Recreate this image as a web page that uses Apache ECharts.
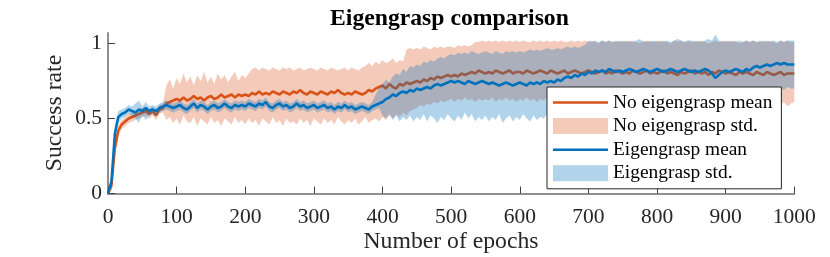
<!DOCTYPE html>
<html>
<head>
<meta charset="utf-8">
<script src="https://cdn.jsdelivr.net/npm/echarts@6/dist/echarts.min.js"></script>
<style>html,body{margin:0;padding:0;background:#fff;}#c{width:830px;height:257px;}</style>
</head>
<body>
<div id="c"></div>
<script>
// Sampling step (epochs) of the values
const STEP = 5;
const xTicks = [0, 100, 200, 300, 400, 500, 600, 700, 800, 900, 1000];
const yTicks = [0, 0.5, 1];
const seriesNames = ['No eigengrasp mean', 'No eigengrasp std.', 'Eigengrasp mean', 'Eigengrasp std.'];
const xName = 'Number of epochs';
const yName = 'Success rate';

// No eigengrasp: mean, lower (mean-std), upper (mean+std)
const noMean = [
0,0.05,0.30,0.42,0.46,0.48,0.50,0.51,0.52,0.53,
0.54,0.55,0.53,0.55,0.52,0.56,0.57,0.60,0.61,0.62,
0.63,0.62,0.64,0.62,0.63,0.65,0.63,0.64,0.62,0.64,
0.65,0.63,0.64,0.66,0.64,0.65,0.66,0.64,0.66,0.65,
0.66,0.65,0.67,0.66,0.68,0.66,0.67,0.66,0.68,0.67,
0.66,0.68,0.67,0.66,0.68,0.67,0.69,0.67,0.66,0.68,
0.67,0.66,0.68,0.67,0.66,0.68,0.67,0.69,0.67,0.66,
0.67,0.66,0.68,0.67,0.66,0.67,0.69,0.68,0.70,0.71,
0.72,0.70,0.73,0.71,0.70,0.73,0.72,0.74,0.73,0.74,
0.75,0.74,0.76,0.75,0.77,0.76,0.78,0.77,0.78,0.79,
0.78,0.79,0.78,0.80,0.79,0.80,0.81,0.80,0.82,0.81,
0.80,0.81,0.80,0.82,0.81,0.80,0.81,0.82,0.80,0.81,
0.81,0.80,0.82,0.81,0.80,0.81,0.82,0.81,0.80,0.82,
0.81,0.80,0.81,0.82,0.80,0.81,0.82,0.81,0.80,0.81,
0.82,0.81,0.80,0.81,0.82,0.80,0.81,0.80,0.82,0.81,
0.80,0.81,0.80,0.82,0.81,0.80,0.81,0.82,0.80,0.81,
0.80,0.81,0.82,0.80,0.81,0.80,0.79,0.81,0.80,0.81,
0.82,0.80,0.81,0.80,0.81,0.79,0.81,0.80,0.82,0.81,
0.80,0.81,0.80,0.79,0.81,0.80,0.81,0.80,0.79,0.81,
0.80,0.79,0.81,0.80,0.79,0.80,0.81,0.79,0.80,0.80,
0.80];
const noLo = [
0,0.02,0.25,0.38,0.43,0.45,0.47,0.48,0.49,0.50,
0.51,0.52,0.50,0.52,0.49,0.53,0.54,0.49,0.51,0.47,
0.50,0.46,0.52,0.48,0.47,0.51,0.45,0.50,0.48,0.46,
0.51,0.47,0.49,0.45,0.50,0.48,0.46,0.51,0.47,0.49,
0.46,0.50,0.47,0.49,0.45,0.50,0.48,0.46,0.51,0.47,
0.49,0.45,0.50,0.47,0.48,0.46,0.50,0.47,0.49,0.45,
0.50,0.48,0.46,0.50,0.47,0.49,0.46,0.51,0.48,0.46,
0.49,0.47,0.50,0.46,0.48,0.51,0.47,0.49,0.50,0.48,
0.51,0.49,0.52,0.50,0.53,0.51,0.54,0.52,0.55,0.56,
0.57,0.59,0.58,0.60,0.59,0.61,0.60,0.62,0.61,0.62,
0.63,0.61,0.63,0.62,0.64,0.62,0.63,0.61,0.63,0.62,
0.63,0.62,0.64,0.61,0.63,0.62,0.64,0.62,0.63,0.61,
0.63,0.62,0.64,0.62,0.63,0.61,0.63,0.62,0.64,0.63,
0.64,0.62,0.65,0.63,0.64,0.62,0.65,0.63,0.66,0.64,
0.66,0.64,0.67,0.65,0.66,0.64,0.67,0.65,0.66,0.64,
0.66,0.65,0.67,0.64,0.66,0.65,0.67,0.64,0.66,0.65,
0.66,0.64,0.67,0.65,0.66,0.64,0.67,0.65,0.66,0.64,
0.66,0.65,0.67,0.64,0.66,0.65,0.63,0.64,0.66,0.65,
0.64,0.66,0.63,0.65,0.62,0.64,0.61,0.63,0.60,0.62,
0.59,0.61,0.58,0.62,0.60,0.63,0.59,0.61,0.58,0.60,
0.61];
const noHi = [
0,0.08,0.35,0.46,0.49,0.51,0.53,0.54,0.55,0.56,
0.57,0.58,0.56,0.58,0.55,0.59,0.60,0.72,0.76,0.70,
0.77,0.73,0.80,0.74,0.78,0.72,0.79,0.75,0.81,0.74,
0.78,0.73,0.80,0.76,0.79,0.74,0.78,0.81,0.75,0.79,
0.77,0.80,0.83,0.84,0.82,0.84,0.83,0.82,0.84,0.83,
0.82,0.84,0.83,0.84,0.82,0.83,0.84,0.82,0.83,0.84,
0.83,0.82,0.84,0.83,0.82,0.84,0.83,0.82,0.83,0.84,
0.82,0.84,0.83,0.82,0.84,0.85,0.87,0.85,0.88,0.86,
0.89,0.87,0.88,0.90,0.87,0.89,0.88,0.96,0.97,0.96,
0.97,0.96,0.98,0.97,0.96,0.98,0.97,0.98,0.97,0.98,
0.98,0.97,0.99,0.98,0.99,0.98,0.99,1.01,1.01,1.02,
1.01,1.02,1.01,1.02,1.01,1.02,1.01,1.02,1.01,1.02,
1.01,1.02,1.01,1.01,1.02,1.01,1.02,1.01,1.02,1.01,
1.02,1.01,1.02,1.01,1.01,1.02,1.01,1.02,1.01,1.02,
1.01,1.02,1.01,1.00,1.02,1.01,1.02,1.01,1.01,1.02,
1.01,1.02,1.01,1.02,1.01,1.00,1.02,1.01,1.02,1.01,
1.02,1.01,1.02,1.01,1.00,1.02,1.01,1.02,1.01,1.02,
1.01,1.02,1.01,1.02,1.01,1.00,1.01,1.02,1.01,1.02,
1.01,1.02,1.01,1.02,1.00,1.01,1.02,1.01,1.02,1.01,
1.01,1.02,1.01,1.02,1.01,1.00,1.02,1.01,1.02,1.01,
1.01];

// Eigengrasp: mean, lower, upper
const eigMean = [
0,0.08,0.40,0.51,0.53,0.54,0.56,0.55,0.54,0.56,
0.55,0.57,0.55,0.56,0.55,0.57,0.58,0.59,0.58,0.57,
0.58,0.59,0.57,0.56,0.58,0.60,0.57,0.59,0.58,0.56,
0.58,0.59,0.57,0.58,0.60,0.58,0.57,0.59,0.58,0.59,
0.58,0.60,0.59,0.58,0.60,0.59,0.61,0.58,0.57,0.59,
0.60,0.58,0.59,0.57,0.58,0.60,0.58,0.59,0.57,0.58,
0.59,0.57,0.58,0.59,0.57,0.58,0.56,0.58,0.57,0.59,
0.57,0.58,0.56,0.57,0.58,0.57,0.56,0.58,0.59,0.60,
0.61,0.63,0.64,0.66,0.65,0.67,0.68,0.67,0.69,0.68,
0.70,0.69,0.70,0.71,0.70,0.72,0.73,0.72,0.73,0.74,
0.75,0.74,0.75,0.74,0.73,0.75,0.74,0.73,0.74,0.75,
0.74,0.73,0.74,0.73,0.72,0.73,0.74,0.73,0.72,0.73,
0.74,0.73,0.72,0.74,0.73,0.74,0.73,0.75,0.74,0.75,
0.74,0.76,0.75,0.77,0.78,0.77,0.79,0.78,0.80,0.79,
0.81,0.80,0.82,0.81,0.82,0.81,0.83,0.82,0.81,0.82,
0.81,0.82,0.83,0.82,0.81,0.82,0.83,0.82,0.81,0.82,
0.83,0.82,0.81,0.82,0.83,0.82,0.81,0.82,0.83,0.82,
0.81,0.82,0.81,0.82,0.83,0.82,0.80,0.77,0.79,0.81,
0.82,0.81,0.82,0.83,0.82,0.81,0.83,0.82,0.84,0.85,
0.84,0.85,0.86,0.85,0.86,0.87,0.86,0.87,0.86,0.86,
0.86];
const eigLo = [
0,0.04,0.34,0.47,0.50,0.51,0.53,0.52,0.50,0.47,
0.52,0.49,0.52,0.53,0.52,0.54,0.55,0.56,0.55,0.54,
0.55,0.56,0.54,0.53,0.55,0.57,0.54,0.56,0.55,0.53,
0.55,0.56,0.54,0.55,0.57,0.55,0.54,0.56,0.55,0.56,
0.55,0.57,0.56,0.55,0.57,0.56,0.58,0.55,0.54,0.56,
0.57,0.55,0.56,0.54,0.55,0.57,0.55,0.56,0.54,0.55,
0.56,0.54,0.55,0.56,0.54,0.55,0.53,0.55,0.54,0.56,
0.54,0.55,0.53,0.54,0.55,0.54,0.53,0.55,0.56,0.57,
0.52,0.50,0.53,0.49,0.52,0.48,0.51,0.49,0.52,0.48,
0.51,0.49,0.53,0.48,0.52,0.50,0.47,0.51,0.49,0.53,
0.50,0.48,0.52,0.49,0.54,0.50,0.53,0.48,0.51,0.49,
0.52,0.48,0.51,0.49,0.53,0.47,0.50,0.52,0.48,0.51,
0.49,0.53,0.50,0.48,0.52,0.49,0.51,0.50,0.53,0.49,
0.52,0.50,0.54,0.51,0.55,0.53,0.56,0.54,0.57,0.58,
0.60,0.58,0.61,0.59,0.62,0.60,0.58,0.61,0.59,0.60,
0.61,0.59,0.62,0.60,0.58,0.61,0.59,0.62,0.60,0.61,
0.59,0.62,0.60,0.61,0.58,0.60,0.62,0.59,0.61,0.60,
0.62,0.59,0.61,0.60,0.58,0.60,0.55,0.50,0.58,0.61,
0.62,0.64,0.63,0.65,0.64,0.66,0.65,0.67,0.66,0.68,
0.67,0.69,0.68,0.70,0.69,0.71,0.70,0.69,0.71,0.70,
0.70];
const eigHi = [
0,0.12,0.46,0.55,0.56,0.57,0.59,0.58,0.60,0.62,
0.58,0.61,0.58,0.59,0.58,0.60,0.61,0.62,0.61,0.60,
0.61,0.62,0.60,0.59,0.61,0.63,0.60,0.62,0.61,0.59,
0.61,0.62,0.60,0.61,0.63,0.61,0.60,0.62,0.61,0.62,
0.61,0.63,0.62,0.61,0.63,0.62,0.64,0.61,0.60,0.62,
0.63,0.61,0.62,0.60,0.61,0.63,0.61,0.62,0.60,0.61,
0.62,0.60,0.61,0.62,0.60,0.61,0.59,0.61,0.60,0.62,
0.60,0.61,0.59,0.60,0.61,0.60,0.59,0.61,0.66,0.70,
0.73,0.76,0.74,0.78,0.80,0.79,0.83,0.81,0.85,0.84,
0.86,0.85,0.88,0.87,0.89,0.88,0.90,0.91,0.90,0.92,
0.93,0.92,0.94,0.93,0.94,0.93,0.95,0.94,0.93,0.94,
0.95,0.94,0.93,0.95,0.94,0.93,0.95,0.94,0.95,0.94,
0.95,0.94,0.95,0.96,0.95,0.96,0.95,0.96,0.97,0.96,
0.96,0.97,0.96,0.97,0.98,0.97,0.98,0.97,0.98,0.99,
1.02,1.01,1.02,1.01,1.02,1.01,1.02,1.01,1.02,1.01,
1.02,1.01,1.02,1.01,1.02,1.03,1.01,1.02,1.01,1.02,
1.01,1.02,1.01,1.02,1.01,1.02,1.03,1.02,1.01,1.02,
1.02,1.01,1.02,1.01,1.02,1.03,1.02,1.06,1.02,1.01,
1.02,1.01,1.02,1.01,1.02,1.01,1.02,1.01,1.02,1.01,
1.02,1.01,1.02,1.01,1.02,1.01,1.02,1.01,1.02,1.02,
1.02];

const ORANGE = '#D95319';
const BLUE = '#0072BD';
const FONT = "'Liberation Serif','Times New Roman',serif";
// legend glyph for the mean lines: a thick horizontal bar inside a 55x16 box
const LINE_ICON = 'path://M0,0 M55,16 M0,6.7 L55,6.7 L55,9.3 L0,9.3 Z';

function pairs(arr) { return arr.map((v, i) => [i * STEP, v]); }

function bandSeries(name, lo, hi, fill, z) {
  return {
    name: name,
    type: 'custom',
    z: z,
    silent: true,
    itemStyle: { color: fill },
    data: [0],
    renderItem: function (params, api) {
      const pts = [];
      for (let i = 0; i < hi.length; i++) pts.push(api.coord([i * STEP, hi[i]]));
      for (let i = lo.length - 1; i >= 0; i--) pts.push(api.coord([i * STEP, lo[i]]));
      return { type: 'polygon', shape: { points: pts }, style: { fill: fill } };
    }
  };
}

const chart = echarts.init(document.getElementById('c'), null, { renderer: 'canvas' });
chart.setOption({
  animation: false,
  backgroundColor: '#fff',
  title: {
    text: 'Eigengrasp comparison',
    left: 330, top: 7, padding: 0,
    textStyle: { fontFamily: FONT, fontSize: 23.7, fontWeight: 'bold', color: '#000' }
  },
  grid: { left: 108, right: 35.7, top: 33, bottom: 63.5 },
  legend: {
    orient: 'vertical',
    left: 547, top: 87,
    padding: [6, 9, 6, 6],
    itemWidth: 55, itemHeight: 16, itemGap: 4.6,
    backgroundColor: '#fff',
    borderColor: '#262626', borderWidth: 1,
    textStyle: { fontFamily: FONT, fontSize: 19.4, color: '#000' },
    data: [
      { name: seriesNames[0], icon: LINE_ICON, itemStyle: { color: ORANGE } },
      { name: seriesNames[1], icon: 'rect' },
      { name: seriesNames[2], icon: LINE_ICON, itemStyle: { color: BLUE } },
      { name: seriesNames[3], icon: 'rect' }
    ],
    selectedMode: false
  },
  graphic: [
    { type: 'text', x: 451, y: 242, silent: true,
      style: { text: xName, font: '23.7px ' + FONT, fill: '#262626', textAlign: 'center', textVerticalAlign: 'middle' } },
    { type: 'text', x: 55, y: 113, rotation: Math.PI / 2, silent: true,
      style: { text: yName, font: '23.7px ' + FONT, fill: '#262626', textAlign: 'center', textVerticalAlign: 'middle' } }
  ],
  xAxis: {
    type: 'value', min: 0, max: 1000, interval: 100,
    axisLine: { lineStyle: { color: '#8f8f8f', width: 2 } },
    axisTick: { inside: true, length: 7, lineStyle: { color: '#404040', width: 1 }, customValues: xTicks },
    axisLabel: { fontFamily: FONT, fontSize: 21.5, color: '#262626', margin: 13, customValues: xTicks,
      formatter: function (v) { return String(v); } },
    splitLine: { show: false }
  },
  yAxis: {
    type: 'value', min: 0, max: 1.07,
    axisLine: { show: true, lineStyle: { color: '#8f8f8f', width: 2 } },
    axisTick: { show: true, inside: true, length: 7, lineStyle: { color: '#404040', width: 1 }, customValues: yTicks },
    axisLabel: { fontFamily: FONT, fontSize: 21.5, color: '#262626', margin: 6, customValues: yTicks,
      formatter: function (v) { return String(v); } },
    splitLine: { show: false }
  },
  series: [
    bandSeries(seriesNames[1], noLo, noHi, 'rgba(217,83,25,0.3)', 1),
    {
      name: seriesNames[0], type: 'line', z: 2, data: pairs(noMean),
      showSymbol: false, symbol: 'none', silent: true,
      lineStyle: { color: ORANGE, width: 2.5 }, itemStyle: { color: ORANGE }
    },
    bandSeries(seriesNames[3], eigLo, eigHi, 'rgba(0,114,189,0.3)', 3),
    {
      name: seriesNames[2], type: 'line', z: 4, data: pairs(eigMean),
      showSymbol: false, symbol: 'none', silent: true,
      lineStyle: { color: BLUE, width: 2.5 }, itemStyle: { color: BLUE }
    }
  ]
});
</script>
</body>
</html>
